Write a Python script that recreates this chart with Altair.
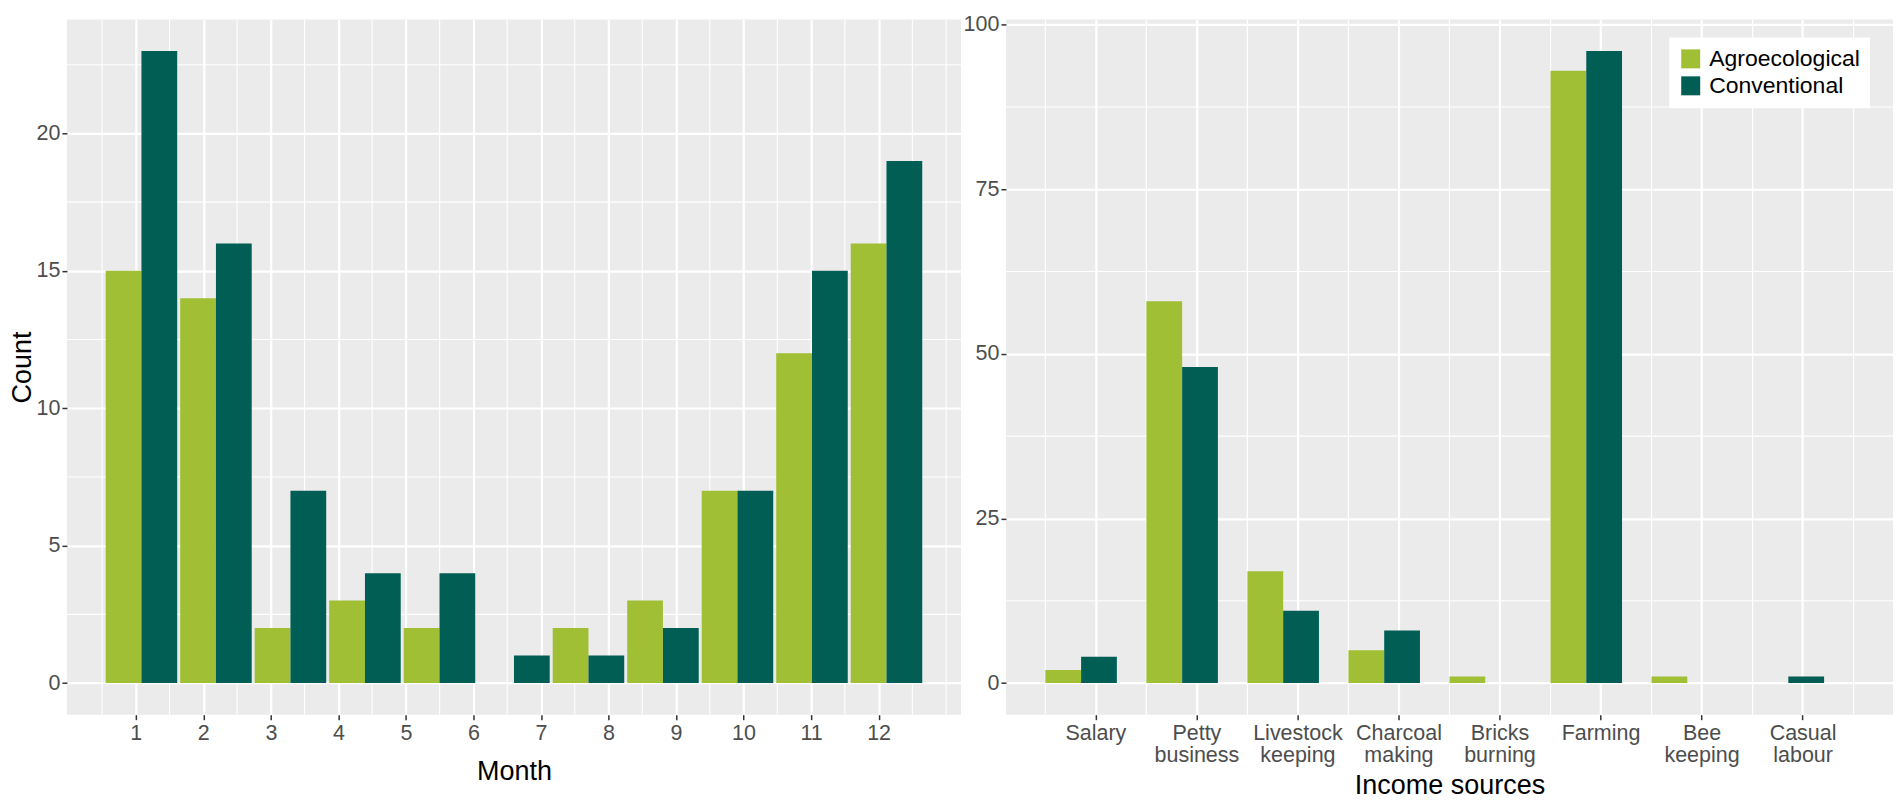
import altair as alt
import pandas as pd

# ---- data ----
groups = ["Agroecological", "Conventional"]
colors = ["#A0BF35", "#005E54"]

# months that appear in the data (month 6 has no bars)
months_with_data = [1, 2, 3, 4, 5, 7, 8, 9, 10, 11, 12]
month_agro = [15, 14, 2, 3, 2, 0, 2, 3, 7, 12, 16]
month_conv = [23, 16, 7, 4, 4, 1, 1, 2, 7, 15, 19]
month_ticks = [1, 2, 3, 4, 5, 6, 7, 8, 9, 10, 11, 12]
month_minor = [0.5, 1.5, 2.5, 3.5, 4.5, 5.5, 6.5, 7.5, 8.5, 9.5, 10.5, 11.5, 12.5, 13.0]
count_ticks = [0, 5, 10, 15, 20]
count_minor = [2.5, 7.5, 12.5, 17.5, 22.5]

sources = ["Salary", "Petty business", "Livestock keeping", "Charcoal making",
           "Bricks burning", "Farming", "Bee keeping", "Casual labour"]
source_agro = [2, 58, 17, 5, 1, 93, 1, 0]
source_conv = [4, 48, 11, 8, 0, 96, 0, 1]
source_ticks = [0, 25, 50, 75, 100]
source_minor = [12.5, 37.5, 62.5, 87.5]

# ---- tables ----
m_df = pd.DataFrame({
    "month": months_with_data * 2,
    "group": [groups[0]] * len(months_with_data) + [groups[1]] * len(months_with_data),
    "count": month_agro + month_conv,
})
s_df = pd.DataFrame({
    "source": sources * 2,
    "group": [groups[0]] * len(sources) + [groups[1]] * len(sources),
    "count": source_agro + source_conv,
})

color_scale = alt.Scale(domain=groups, range=colors)
MINOR_W = 1.1

# ---- left panel ----
y_left_scale = alt.Scale(domain=[-1.15, 24.15], nice=False, zero=False)
y_left_axis = alt.Axis(values=count_ticks, title="Count", format="d", grid=True,
                       titlePadding=0, labelPadding=2)

left_minor_v = alt.Chart(pd.DataFrame({"m": month_minor})).mark_rule(
    color="white", strokeWidth=MINOR_W
).encode(
    x=alt.X("m:Q", scale=alt.Scale(domain=[-0.02, 13.22], nice=False, zero=False),
            axis=alt.Axis(values=month_ticks, title="Month", format="d", grid=True,
                          titlePadding=14, labelFlush=False))
)
left_minor_h = alt.Chart(pd.DataFrame({"c": count_minor})).mark_rule(
    color="white", strokeWidth=MINOR_W
).encode(y=alt.Y("c:Q", scale=y_left_scale, axis=y_left_axis))

left_bars = alt.Chart(m_df).mark_bar().encode(
    x=alt.X("month:O", sort=months_with_data,
            scale=alt.Scale(paddingInner=0.04, paddingOuter=0.52), axis=None),
    xOffset=alt.XOffset("group:N", sort=groups, scale=alt.Scale(paddingInner=0, paddingOuter=0)),
    y=alt.Y("count:Q", scale=y_left_scale, axis=y_left_axis, stack=None),
    y2=alt.datum(0),
    color=alt.Color("group:N", scale=color_scale, legend=None),
)

left = alt.layer(left_minor_v, left_minor_h, left_bars).resolve_scale(
    x="independent"
).properties(width=895, height=696)

# ---- right panel ----
y_right_scale = alt.Scale(domain=[-4.8, 100.8], nice=False, zero=False)
y_right_axis = alt.Axis(values=source_ticks, title=None, format="d", grid=True, labelPadding=2)
src_scale = alt.Scale(paddingInner=0, paddingOuter=0.39)
src_axis = alt.Axis(title="Income sources", labelExpr="split(datum.label, ' ')",
                    labelLineHeight=22, bandPosition=0.5, grid=True, labelAngle=0,
                    titlePadding=6)

src_rows = pd.DataFrame({"source": sources})
right_minor_v0 = alt.Chart(src_rows).mark_rule(color="white", strokeWidth=MINOR_W).encode(
    x=alt.X("source:N", sort=sources, scale=src_scale, axis=src_axis, bandPosition=0)
)
right_minor_v1 = alt.Chart(src_rows).mark_rule(color="white", strokeWidth=MINOR_W).encode(
    x=alt.X("source:N", sort=sources, scale=src_scale, axis=src_axis, bandPosition=1)
)
right_minor_h = alt.Chart(pd.DataFrame({"c": source_minor})).mark_rule(
    color="white", strokeWidth=MINOR_W
).encode(y=alt.Y("c:Q", scale=y_right_scale, axis=y_right_axis))

right_bars = alt.Chart(s_df).mark_bar().encode(
    x=alt.X("source:N", sort=sources, scale=src_scale, axis=src_axis),
    xOffset=alt.XOffset("group:N", sort=groups, scale=alt.Scale(paddingInner=0, paddingOuter=0)),
    y=alt.Y("count:Q", scale=y_right_scale, axis=y_right_axis, stack=None),
    y2=alt.datum(0),
    color=alt.Color("group:N", scale=color_scale,
                    legend=alt.Legend(orient="none", legendX=664, legendY=18, title=None,
                                      fillColor="white", padding=10, symbolType="square",
                                      symbolSize=361, symbolStrokeWidth=0, labelFontSize=23,
                                      labelColor="black", labelOffset=7, rowPadding=3)),
)

right = alt.layer(right_minor_v0, right_minor_v1, right_minor_h, right_bars).properties(
    width=888, height=696
)

chart = alt.hconcat(left, right, spacing=1).resolve_scale(color="independent").properties(
    padding={"left": 0, "top": 5, "right": 0, "bottom": 0}
).configure(font="Liberation Sans").configure_view(
    fill="#EBEBEB", strokeWidth=0
).configure_axis(
    labelFontSize=21.5, labelColor="#4D4D4D", titleFontSize=27, titleColor="black",
    titleFontWeight="normal", tickColor="#333333", tickSize=5, tickWidth=1.5,
    domain=False, gridColor="white", gridWidth=2.2, labelPadding=3
)

chart.save("out.html", embed_options={"renderer": "svg", "actions": False})
